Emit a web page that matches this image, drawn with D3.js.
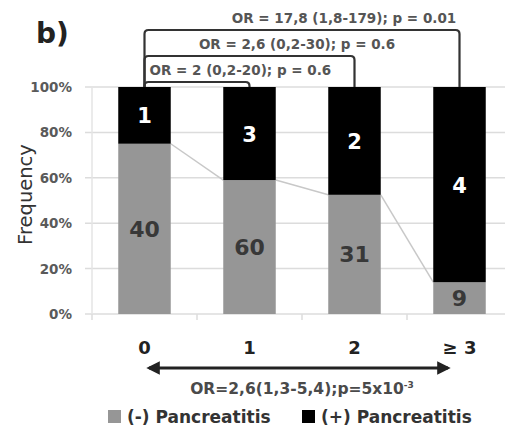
<!DOCTYPE html>
<html>
<head>
<meta charset="utf-8">
<script src="https://cdn.jsdelivr.net/npm/d3@7"></script>
<style>
  body { margin: 0; background: #fff; }
  svg { display: block; font-family: "DejaVu Sans", sans-serif; }
</style>
</head>
<body>
<div id="chart"></div>
<script>
// categories and values (percent of each bar)
var categories = ["0", "1", "2", "\u2265 3"];
var negPct = [75, 59, 52.5, 14];
var negCounts = [40, 60, 31, 9];
var posCounts = [1, 3, 2, 4];
var yTicks = [0, 20, 40, 60, 80, 100];
var seriesNames = ["(-) Pancreatitis", "(+) Pancreatitis"];
// pairwise comparisons: [from index, to index, label]
var comparisons = [
  [0, 1, "OR = 2 (0,2-20); p = 0.6"],
  [0, 2, "OR = 2,6 (0,2-30); p = 0.6"],
  [0, 3, "OR = 17,8 (1,8-179); p = 0.01"]
];
var trendLabel = "OR=2,6(1,3-5,4);p=5x10";
var trendExp = "-3";

var width = 505, height = 431;
var colNeg = "#969696", colPos = "#000000";

var svg = d3.select("#chart").append("svg")
    .attr("width", width)
    .attr("height", height);

var x = d3.scaleBand().domain(categories).range([92, 512]).paddingInner(0.5).paddingOuter(0.25);
var y = d3.scaleLinear().domain([0, 100]).range([314, 87]);
var bw = x.bandwidth();

// gridlines
svg.append("g").selectAll("line")
    .data(yTicks)
  .enter().append("line")
    .attr("x1", 85).attr("x2", width)
    .attr("y1", function(d) { return y(d); })
    .attr("y2", function(d) { return y(d); })
    .attr("stroke", "#dcdcdc")
    .attr("stroke-width", 1.5);

// y axis line
svg.append("line")
    .attr("x1", 92).attr("x2", 92)
    .attr("y1", y(100)).attr("y2", y(0))
    .attr("stroke", "#e4e4e4")
    .attr("stroke-width", 1.5);

// y tick labels
svg.append("g").selectAll("text")
    .data(yTicks)
  .enter().append("text")
    .attr("x", 72)
    .attr("y", function(d) { return y(d) + 5; })
    .attr("text-anchor", "end")
    .attr("font-size", 13.5)
    .attr("font-weight", "bold")
    .attr("fill", "#5a5a5a")
    .text(function(d) { return d + "%"; });

// bottom tick marks at band boundaries
var bounds = categories.map(function(c) { return x(c) - x.step() * 0.25; });
svg.append("g").selectAll("line")
    .data(bounds)
  .enter().append("line")
    .attr("x1", function(d) { return d; })
    .attr("x2", function(d) { return d; })
    .attr("y1", y(0)).attr("y2", y(0) + 6)
    .attr("stroke", "#dcdcdc")
    .attr("stroke-width", 1.5);

svg.append("text")
    .attr("transform", "translate(32," + (y(50) - 6) + ") rotate(-90)")
    .attr("text-anchor", "middle")
    .attr("font-size", 19.5)
    .attr("fill", "#333")
    .text("Frequency");

svg.append("text")
    .attr("x", 36).attr("y", 43)
    .attr("font-size", 28)
    .attr("font-weight", "bold")
    .attr("fill", "#222")
    .text("b)");

// series lines between gray tops
var segs = d3.range(categories.length - 1);
svg.append("g").selectAll("line")
    .data(segs)
  .enter().append("line")
    .attr("x1", function(i) { return x(categories[i]) + bw; })
    .attr("y1", function(i) { return y(negPct[i]); })
    .attr("x2", function(i) { return x(categories[i + 1]); })
    .attr("y2", function(i) { return y(negPct[i + 1]); })
    .attr("stroke", "#c8c8c8")
    .attr("stroke-width", 1.5);

// stacked bars
var bars = svg.append("g");
bars.selectAll(".neg")
    .data(categories)
  .enter().append("rect")
    .attr("class", "neg")
    .attr("x", function(d) { return x(d); })
    .attr("width", bw)
    .attr("y", function(d, i) { return y(negPct[i]); })
    .attr("height", function(d, i) { return y(0) - y(negPct[i]); })
    .attr("fill", colNeg);
bars.selectAll(".pos")
    .data(categories)
  .enter().append("rect")
    .attr("class", "pos")
    .attr("x", function(d) { return x(d); })
    .attr("width", bw)
    .attr("y", y(100))
    .attr("height", function(d, i) { return y(negPct[i]) - y(100); })
    .attr("fill", colPos);

// value labels
bars.selectAll(".negLab")
    .data(categories)
  .enter().append("text")
    .attr("x", function(d) { return x(d) + bw / 2; })
    .attr("y", function(d, i) { return (y(0) + y(negPct[i])) / 2 + 8; })
    .attr("text-anchor", "middle")
    .attr("font-size", 22)
    .attr("font-weight", "bold")
    .attr("fill", "#383838")
    .text(function(d, i) { return negCounts[i]; });
bars.selectAll(".posLab")
    .data(categories)
  .enter().append("text")
    .attr("x", function(d) { return x(d) + bw / 2; })
    .attr("y", function(d, i) { return (y(100) + y(negPct[i])) / 2 + 8; })
    .attr("text-anchor", "middle")
    .attr("font-size", 21)
    .attr("font-weight", "bold")
    .attr("fill", "#fff")
    .text(function(d, i) { return posCounts[i]; });

// brackets
var bracketY = [82, 56, 30];
var bg = svg.append("g");
comparisons.forEach(function(c, k) {
  var x0 = x(categories[c[0]]) + bw / 2, x1 = x(categories[c[1]]) + bw / 2;
  var by = bracketY[k], r = 4;
  bg.append("path")
      .attr("d", "M" + x0 + "," + y(100) + "V" + (by + r) + "Q" + x0 + "," + by + " " + (x0 + r) + "," + by +
                 "H" + (x1 - r) + "Q" + x1 + "," + by + " " + x1 + "," + (by + r) + "V" + y(100))
      .attr("fill", "none")
      .attr("stroke", "#333")
      .attr("stroke-width", 2.2);
  bg.append("text")
      .attr("x", k === 0 ? x0 + 5 : (k === 1 ? 297 : 344))
      .attr("y", by - 7)
      .attr("text-anchor", k === 0 ? "start" : "middle")
      .attr("font-size", 13.5)
      .attr("font-weight", "bold")
      .attr("fill", "#555")
      .text(c[2]);
});

// x labels
svg.append("g").selectAll("text")
    .data(categories)
  .enter().append("text")
    .attr("x", function(d) { return x(d) + bw / 2; })
    .attr("y", 354)
    .attr("text-anchor", "middle")
    .attr("font-size", 18)
    .attr("font-weight", "bold")
    .attr("fill", "#222")
    .text(function(d) { return d; });

// double arrow
var defs = svg.append("defs");
defs.append("marker")
    .attr("id", "ah")
    .attr("viewBox", "0 0 10 10")
    .attr("refX", 8).attr("refY", 5)
    .attr("markerWidth", 4.5).attr("markerHeight", 4.5)
    .attr("orient", "auto-start-reverse")
  .append("path")
    .attr("d", "M0,0L10,5L0,10z")
    .attr("fill", "#222");
svg.append("line")
    .attr("x1", 149).attr("x2", 448)
    .attr("y1", 368).attr("y2", 368)
    .attr("stroke", "#222")
    .attr("stroke-width", 3)
    .attr("marker-start", "url(#ah)")
    .attr("marker-end", "url(#ah)");

var tl = svg.append("text")
    .attr("x", 302).attr("y", 394)
    .attr("text-anchor", "middle")
    .attr("font-size", 15.5)
    .attr("font-weight", "bold")
    .attr("fill", "#4a4a4a");
tl.append("tspan").text(trendLabel);
tl.append("tspan").attr("dy", -6).attr("font-size", 9).text(trendExp);

// legend
var lg = svg.append("g").attr("transform", "translate(0,417)");
var legX = [108, 302];
seriesNames.forEach(function(s, i) {
  lg.append("rect")
      .attr("x", legX[i]).attr("y", -7)
      .attr("width", 13).attr("height", 13)
      .attr("fill", i === 0 ? colNeg : colPos);
  lg.append("text")
      .attr("x", legX[i] + 19).attr("y", 6)
      .attr("font-size", 17)
      .attr("font-weight", "bold")
      .attr("fill", "#333")
      .text(s);
});
</script>
</body>
</html>
